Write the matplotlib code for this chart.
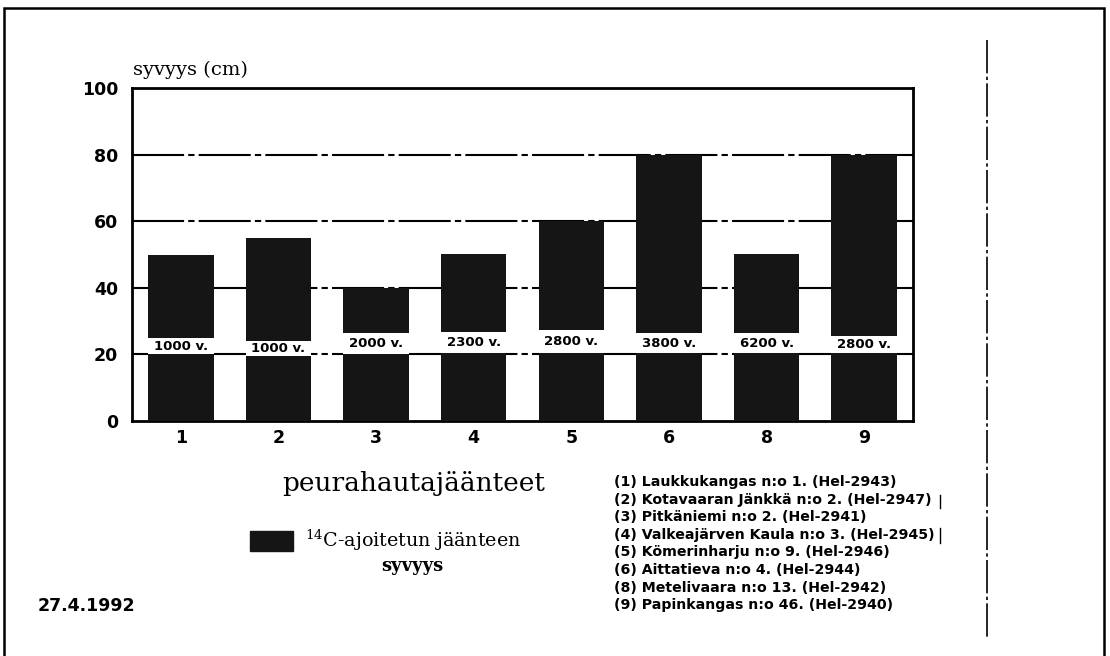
import matplotlib
matplotlib.use("Agg")
import matplotlib.pyplot as plt
from matplotlib.patches import Rectangle
from matplotlib.lines import Line2D

# data
sites = ["1", "2", "3", "4", "5", "6", "8", "9"]
depth = [50, 55, 40, 50, 60, 80, 50, 80]          # total depth (cm)
band_low = [20, 19.5, 20, 20.3, 20.4, 20.4, 20.3, 20.4]
band_high = [25, 24, 26.4, 26.7, 27.3, 26.4, 26.4, 25.5]
ages = ["1000 v.", "1000 v.", "2000 v.", "2300 v.", "2800 v.", "3800 v.", "6200 v.", "2800 v."]
yticks = [0, 20, 40, 60, 80, 100]
site_names = [
    "(1) Laukkukangas n:o 1. (Hel-2943)",
    "(2) Kotavaaran Jänkkä n:o 2. (Hel-2947)",
    "(3) Pitkäniemi n:o 2. (Hel-2941)",
    "(4) Valkeajärven Kaula n:o 3. (Hel-2945)",
    "(5) Kömerinharju n:o 9. (Hel-2946)",
    "(6) Aittatieva n:o 4. (Hel-2944)",
    "(8) Metelivaara n:o 13. (Hel-2942)",
    "(9) Papinkangas n:o 46. (Hel-2940)",
]

plt.rcParams['mathtext.fontset'] = 'dejavuserif'

W, H = 1110, 656
fig = plt.figure(figsize=(W / 100, H / 100), dpi=100)
ax = fig.add_axes([132 / W, 1 - 421 / H, (913 - 132) / W, (421 - 88) / H])

x = range(len(sites))
bw = 0.67
# lower black part, white band, upper black part
ax.bar(x, band_low, width=bw, color="#151515", zorder=3)
ax.bar(x, [h - l for h, l in zip(band_high, band_low)], bottom=band_low,
       width=bw, color="white", zorder=3)
ax.bar(x, [d - h for d, h in zip(depth, band_high)], bottom=band_high,
       width=bw, color="#151515", zorder=3)
for i, a in enumerate(ages):
    ax.text(i, (band_low[i] + band_high[i]) / 2, a, ha="center", va="center",
            fontsize=9.5, fontweight="bold", family="DejaVu Sans", zorder=4)

for yv in [20, 40, 60, 80]:
    ax.axhline(yv, color="black", lw=1.5, ls=(0, (25, 2, 3, 2)), zorder=1)

ax.set_xlim(-0.5, len(sites) - 0.5)
ax.set_ylim(0, 100)
ax.set_yticks(yticks)
ax.set_xticks(list(x))
ax.set_xticklabels(sites)
ax.tick_params(axis="y", length=0, labelsize=12.5, pad=10)
ax.tick_params(axis="x", length=0, labelsize=12.5, pad=6)
for lab in ax.get_yticklabels() + ax.get_xticklabels():
    lab.set_fontweight("bold")
for s in ax.spines.values():
    s.set_linewidth(2)

fig.text(133 / W, 1 - 70 / H, "syvyys (cm)", family="DejaVu Serif",
         fontsize=14, va="center", ha="left")
fig.text(414 / W, 1 - 484 / H, "peurahautajäänteet", family="DejaVu Serif",
         fontsize=19, va="center", ha="center")

# legend
fig.patches.append(Rectangle((250 / W, 1 - 551 / H), 43 / W, 20 / H,
                             transform=fig.transFigure, color="#151515"))
fig.text(305 / W, 1 - 540 / H, "$^{14}$C-ajoitetun jäänteen", family="DejaVu Serif",
         fontsize=13.8, va="center", ha="left")
fig.text(412 / W, 1 - 566 / H, "syvyys", family="DejaVu Serif",
         fontsize=13, fontweight="bold", va="center", ha="center")
fig.text(38 / W, 1 - 606 / H, "27.4.1992", family="DejaVu Sans",
         fontsize=12.5, fontweight="bold", va="center", ha="left")

for i, name in enumerate(site_names):
    fig.text(614 / W, 1 - (482 + i * 17.6) / H, name, family="DejaVu Sans",
             fontsize=10.2, fontweight="bold", va="center", ha="left")

# page frame and separator lines
fig.patches.append(Rectangle((4 / W, -0.05), 1100 / W, 1.05 - 8 / H,
                             transform=fig.transFigure, fill=False,
                             edgecolor="black", lw=1.8))
fig.lines.append(Line2D([987 / W, 987 / W], [1 - 40 / H, 1 - 640 / H],
                        transform=fig.transFigure, color="black", lw=1.2,
                        ls=(0, (20, 2, 2, 2))))
fig.lines.append(Line2D([940 / W, 940 / W], [1 - 495 / H, 1 - 508 / H],
                        transform=fig.transFigure, color="black", lw=1))
fig.lines.append(Line2D([940 / W, 940 / W], [1 - 528 / H, 1 - 543 / H],
                        transform=fig.transFigure, color="black", lw=1))

fig.savefig("out.png", dpi=100)
